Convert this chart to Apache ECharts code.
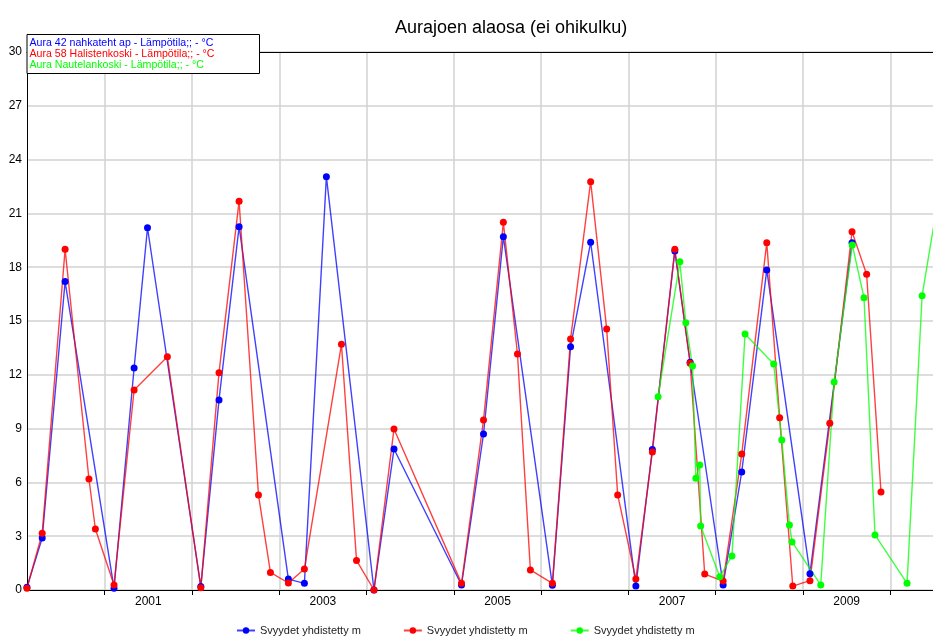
<!DOCTYPE html>
<html>
<head>
<meta charset="utf-8">
<script src="https://cdn.jsdelivr.net/npm/echarts@6/dist/echarts.min.js"></script>
<style>
html,body{margin:0;padding:0;background:#fff;}
#chart{width:933px;height:637px;}
</style>
</head>
<body>
<div id="chart"></div>
<script>
const titleText = 'Aurajoen alaosa (ei ohikulku)';
const boxLabels = [
  'Aura 42 nahkateht ap - Lämpötila;; - °C',
  'Aura 58 Halistenkoski - Lämpötila;; - °C',
  'Aura Nautelankoski - Lämpötila;; - °C'
];
const legendLabel = 'Svyydet yhdistetty m';
const yTicks = [0, 3, 6, 9, 12, 15, 18, 21, 24, 27, 30];
const yearTicks = [2001, 2010];      // first and last year boundary drawn
const yearLabels = [2001, 2003, 2005, 2007, 2009];

const blueDates = ['2000-02-10','2000-04-14','2000-07-19','2001-02-09','2001-05-04','2001-06-29',
  '2002-02-07','2002-04-24','2002-07-17','2003-02-08','2003-04-16','2003-07-17','2004-02-01',
  '2004-04-25','2005-02-02','2005-05-05','2005-07-27','2006-02-17','2006-05-04','2006-07-27',
  '2007-02-01','2007-04-11','2007-07-14','2007-09-16','2008-02-01','2008-04-19','2008-08-02',
  '2009-01-30','2009-07-25'];
const blueVals = [0.15,2.9,17.2,0.1,12.38,20.2,
  0.19,10.6,20.26,0.61,0.37,23.05,0.0,
  7.86,0.28,8.7,19.7,0.26,13.57,19.39,
  0.22,7.84,18.9,12.7,0.28,6.58,17.85,
  0.91,19.37];

const redDates = ['2000-02-10','2000-04-14','2000-07-19','2000-10-27','2000-11-23','2001-02-09',
  '2001-05-04','2001-09-20','2002-02-07','2002-04-24','2002-07-17','2002-10-06','2002-11-25',
  '2003-02-08','2003-04-16','2003-09-18','2003-11-20','2004-02-01','2004-04-25','2005-02-02',
  '2005-05-05','2005-07-27','2005-09-24','2005-11-17','2006-02-17','2006-05-04','2006-07-27',
  '2006-10-02','2006-11-17','2007-02-01','2007-04-11','2007-07-14','2007-09-16','2007-11-16',
  '2008-02-01','2008-04-19','2008-08-02','2008-09-25','2008-11-19','2009-01-30','2009-04-23',
  '2009-07-25','2009-09-24','2009-11-23'];
const redVals = [0.1,3.16,19.0,6.19,3.4,0.28,
  11.15,13.0,0.13,12.12,21.68,5.3,0.98,
  0.39,1.17,13.7,1.65,0.0,8.98,0.37,
  9.48,20.5,13.16,1.12,0.37,14.0,22.77,
  14.56,5.3,0.61,7.7,19.0,12.64,0.89,
  0.5,7.58,19.37,9.61,0.22,0.52,9.3,
  19.98,17.6,5.47];

const greenDates = ['2007-05-05','2007-08-04','2007-08-29','2007-09-26','2007-10-10','2007-10-26',
  '2007-10-30','2008-01-18','2008-03-09','2008-05-03','2008-08-31','2008-10-04','2008-11-05',
  '2008-11-16','2009-03-16','2009-05-11','2009-07-26','2009-09-13','2009-10-29','2010-03-12',
  '2010-05-14','2010-07-10'];
const greenVals = [10.78,18.3,14.9,12.49,6.23,6.97,
  3.57,0.74,1.9,14.28,12.6,8.37,3.63,
  2.68,0.28,11.6,19.24,16.3,3.07,0.37,
  16.41,21.0];

function toYear(s) {
  const p = s.split('-').map(Number);
  const y = p[0];
  const t = Date.UTC(y, p[1] - 1, p[2]);
  const a = Date.UTC(y, 0, 1), b = Date.UTC(y + 1, 0, 1);
  return y + (t - a) / (b - a);
}
function pairs(dates, vals) { return dates.map((d, i) => [toYear(d), vals[i]]); }

const X_MIN = 2000.110, X_MAX = 2010.489;
const PX_PER_YEAR = 87.29;
const X0 = 27;                       // plot left edge (px)
const pxOf = y => X0 + (y - X_MIN) * PX_PER_YEAR;
const FONT = "'Liberation Sans', Arial, sans-serif";

const chart = echarts.init(document.getElementById('chart'), null, {renderer: 'canvas'});

function lineSeries(name, color, data) {
  return {
    name: name, type: 'line', xAxisIndex: 0, yAxisIndex: 0,
    data: data, symbol: 'circle', symbolSize: 7, showSymbol: true, showAllSymbol: true,
    itemStyle: {color: color},
    lineStyle: {color: color, width: 1.4, opacity: 0.75},
    emphasis: {disabled: true}, animation: false, clip: true
  };
}

const tickMin = yearTicks[0], tickMax = yearTicks[1];
const labMin = yearLabels[0] + 0.5, labMax = yearLabels[yearLabels.length - 1] + 0.5;

const option = {
  animation: false,
  backgroundColor: '#ffffff',
  title: {
    text: titleText, left: 390, top: 14,
    textStyle: {fontSize: 18, fontWeight: 'normal', color: '#000', fontFamily: FONT}
  },
  grid: [
    {left: X0, right: 0, top: 52, bottom: 47},
    {left: pxOf(tickMin), width: (tickMax - tickMin) * PX_PER_YEAR, top: 52, bottom: 47},
    {left: pxOf(labMin), width: (labMax - labMin) * PX_PER_YEAR, top: 52, bottom: 47}
  ],
  xAxis: [
    {gridIndex: 0, type: 'value', min: X_MIN, max: X_MAX,
      axisLine: {show: true, onZero: false, lineStyle: {color: '#000', width: 1}},
      axisTick: {show: false}, axisLabel: {show: false}, splitLine: {show: false}},
    {gridIndex: 0, type: 'value', position: 'top', min: X_MIN, max: X_MAX,
      axisLine: {show: true, onZero: false, lineStyle: {color: '#000', width: 1}},
      axisTick: {show: false}, axisLabel: {show: false}, splitLine: {show: false}},
    {gridIndex: 1, type: 'value', min: tickMin, max: tickMax, interval: 1,
      axisLine: {show: false, onZero: false},
      axisTick: {show: true, length: 5, lineStyle: {color: '#000', width: 1}},
      axisLabel: {show: false},
      splitLine: {show: true, lineStyle: {color: '#d2d2d2', width: 1.5}}},
    {gridIndex: 2, type: 'value', min: labMin, max: labMax, interval: 2,
      axisLine: {show: false, onZero: false}, axisTick: {show: false},
      axisLabel: {show: true, margin: 6, color: '#000', fontSize: 12, fontFamily: FONT,
        showMinLabel: true, showMaxLabel: true,
        formatter: v => String(Math.floor(v))},
      splitLine: {show: false}}
  ],
  yAxis: [
    {gridIndex: 0, type: 'value', min: yTicks[0], max: yTicks[yTicks.length - 1], interval: 3,
      axisLine: {show: true, onZero: false, lineStyle: {color: '#000', width: 1}},
      axisTick: {show: false},
      axisLabel: {show: true, margin: 5, color: '#000', fontSize: 12, fontFamily: FONT},
      splitLine: {show: true, lineStyle: {color: '#d2d2d2', width: 1.5}}},
    {gridIndex: 1, type: 'value', min: 0, max: 30, show: false},
    {gridIndex: 2, type: 'value', min: 0, max: 30, show: false}
  ],
  legend: {
    left: 236, top: 625, orient: 'horizontal', padding: 0,
    itemWidth: 18, itemHeight: 8, itemGap: 42,
    data: ['s1', 's2', 's3'],
    formatter: () => legendLabel,
    textStyle: {fontSize: 11, color: '#222', fontFamily: FONT},
    selectedMode: false
  },
  graphic: [
    {type: 'rect', z: 100, shape: {x: 27, y: 34.5, width: 232.5, height: 39},
      style: {fill: '#fff', stroke: '#000', lineWidth: 1}},
    {type: 'text', z: 101, x: 29.5, y: 43.5,
      style: {text: boxLabels[0], fill: '#0000ff', font: "10.6px " + FONT, textVerticalAlign: 'middle'}},
    {type: 'text', z: 101, x: 29.5, y: 54,
      style: {text: boxLabels[1], fill: '#ff0000', font: "10.6px " + FONT, textVerticalAlign: 'middle'}},
    {type: 'text', z: 101, x: 29.5, y: 64.6,
      style: {text: boxLabels[2], fill: '#00ff00', font: "10.6px " + FONT, textVerticalAlign: 'middle'}}
  ],
  series: [
    lineSeries('s1', '#0000ff', pairs(blueDates, blueVals)),
    lineSeries('s2', '#ff0000', pairs(redDates, redVals)),
    lineSeries('s3', '#00ff00', pairs(greenDates, greenVals))
  ]
};
chart.setOption(option);
</script>
</body>
</html>
